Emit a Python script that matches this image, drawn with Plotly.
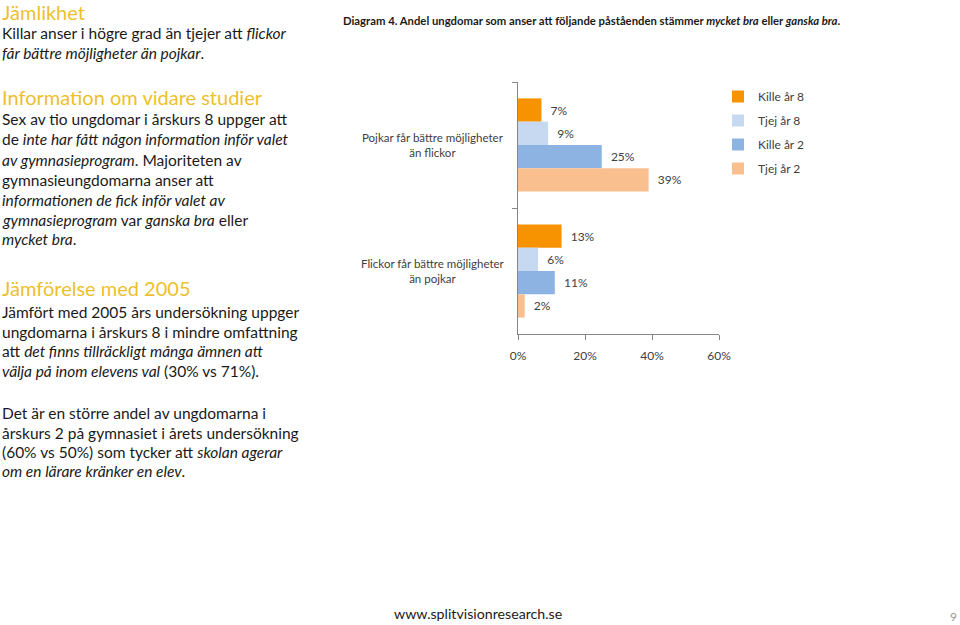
import plotly.graph_objects as go

categories = ["Pojkar får bättre möjligheter<br>än flickor",
              "Flickor får bättre möjligheter<br>än pojkar"]
series_names = ["Kille år 8", "Tjej år 8", "Kille år 2", "Tjej år 2"]
kille8 = [7, 13]
tjej8 = [9, 6]
kille2 = [25, 11]
tjej2 = [39, 2]
x_ticks = [0, 20, 40, 60]
x_tick_labels = ["0%", "20%", "40%", "60%"]

series_values = [kille8, tjej8, kille2, tjej2]
colors = ["#F79200", "#C6D9F1", "#8DB3E2", "#FABF8F"]

W, H = 960, 625
def X(px): return px / W
def Y(py): return 1 - py / H

FONT = "Lato"
HEAD = "#EEBF2C"
BODY = "#1a1a1a"
CHART_TXT = "#404040"

fig = go.Figure()
for name, vals, col in zip(series_names, series_values, colors):
    fig.add_trace(go.Bar(
        y=categories, x=vals, name=name, orientation="h",
        marker=dict(color=col, line=dict(width=0)),
        texttemplate="\u00a0\u00a0%{x}%", textposition="outside",
        textfont=dict(family=FONT, size=12, color=CHART_TXT),
        cliponaxis=False, legendgroup=name,
    ))

fig.update_layout(
    width=W, height=H,
    margin=dict(l=0, r=0, t=0, b=0, pad=0, autoexpand=False),
    paper_bgcolor="white", plot_bgcolor="white",
    barmode="group", bargap=0.26, bargroupgap=0,
    font=dict(family=FONT, color=BODY),
    legend=dict(x=X(718), y=Y(82), xanchor="left", yanchor="top",
                font=dict(family=FONT, size=12, color=CHART_TXT),
                traceorder="grouped", tracegroupgap=5,
                bgcolor="rgba(0,0,0,0)"),
    xaxis=dict(domain=[X(518), X(719)], range=[0, 60], automargin=False,
               tickvals=x_ticks, ticktext=x_tick_labels,
               showgrid=False, zeroline=False,
               showline=True, linecolor="#868686", linewidth=1,
               ticks="outside", ticklen=5, tickcolor="#868686",
               ticklabelstandoff=6,
               tickfont=dict(family=FONT, size=12, color=CHART_TXT)),
    yaxis=dict(domain=[Y(334), Y(82)], autorange="reversed", automargin=False,
               type="category", showticklabels=False,
               showgrid=False, zeroline=False,
               showline=True, linecolor="#868686", linewidth=1,
               ticks="outside", ticklen=5, tickcolor="#868686",
               tickson="boundaries"),
)

ann = []
# category labels
for c in categories:
    ann.append(dict(x=X(433), y=c, xref="paper", yref="y", text=c,
                    showarrow=False, xanchor="center", yanchor="middle",
                    align="center",
                    font=dict(family=FONT, size=11.5, color=CHART_TXT)))

def line(text, py, size=15.5, color=BODY, x=0):
    ann.append(dict(x=X(x), y=Y(py), xref="paper", yref="paper", text=text,
                    showarrow=False, xanchor="left", yanchor="middle",
                    font=dict(family=FONT, size=size, color=color)))

HS = 20
line("Jämlikhet", 12, HS, HEAD)
line("Killar anser i högre grad än tjejer att <i>flickor</i>", 33)
line("<i>får bättre möjligheter än pojkar</i>.", 53)

line("Information om vidare studier", 97, HS, HEAD)
line("Sex av tio ungdomar i årskurs 8 uppger att", 119)
line("de <i>inte har fått någon information inför valet</i>", 139)
line("<i>av gymnasieprogram</i>. Majoriteten av", 160)
line("gymnasieungdomarna anser att", 180)
line("<i>informationen de fick inför valet av</i>", 200)
line("<i>gymnasieprogram</i> var <i>ganska bra</i> eller", 220)
line("<i>mycket bra</i>.", 239)

line("Jämförelse med 2005", 288, HS, HEAD)
line("Jämfört med 2005 års undersökning uppger", 312)
line("ungdomarna i årskurs 8 i mindre omfattning", 332)
line("att <i>det finns tillräckligt många ämnen att</i>", 351)
line("<i>välja på inom elevens val</i> (30% vs 71%).", 371)

line("Det är en större andel av ungdomarna i", 413)
line("årskurs 2 på gymnasiet i årets undersökning", 433)
line("(60% vs 50%) som tycker att <i>skolan agerar</i>", 452)
line("<i>om en lärare kränker en elev</i>.", 471)

line("<b>Diagram 4. Andel ungdomar som anser att följande påståenden stämmer <i>mycket bra</i> eller <i>ganska bra</i>.</b>",
     20, 11.3, BODY, 341)
line("www.splitvisionresearch.se", 613, 14.2, BODY, 392)
ann.append(dict(x=X(953), y=Y(616), xref="paper", yref="paper", text="9",
                showarrow=False, xanchor="center", yanchor="middle",
                font=dict(family=FONT, size=12, color="#9a9a9a")))

fig.update_layout(annotations=ann)
fig.write_html("out.html",
               config={"displayModeBar": False},
               post_script="document.body.style.margin='0';document.body.style.overflow='hidden';")
